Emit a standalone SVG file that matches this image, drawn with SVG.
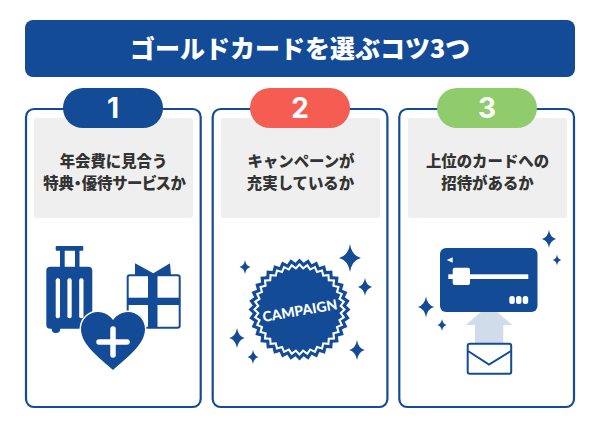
<svg xmlns="http://www.w3.org/2000/svg" width="600" height="433" viewBox="0 0 600 433">
<style>
.b{fill:#134b97}.w{fill:#fff}
.card{fill:#fff;stroke:#134b97;stroke-width:2.2}
.panel{fill:#efefef}
.num{font:700 28px "Inter","Liberation Sans",sans-serif;fill:#fff;text-anchor:middle}
.t{font:900 15.4px "Noto Sans CJK JP",sans-serif;fill:#333;text-anchor:middle}
.title{font:900 25px "Noto Sans CJK JP",sans-serif;fill:#fff;text-anchor:middle}
</style>
<defs>
<path id="star" d="M0-1Q.13-.17 .78 0Q.13 .17 0 1Q-.13 .17-.78 0Q-.13-.17 0-1Z" fill="#134b97"/>
<polygon id="seal" points="100,0 91.65,8.02 98.48,17.36 88.86,23.81 93.97,34.2 83.38,38.88 86.6,50 75.37,52.77 76.6,64.28 65.05,65.05 64.28,76.6 52.77,75.37 50,86.6 38.88,83.38 34.2,93.97 23.81,88.86 17.36,98.48 8.02,91.65 0,100 -8.02,91.65 -17.36,98.48 -23.81,88.86 -34.2,93.97 -38.88,83.38 -50,86.6 -52.77,75.37 -64.28,76.6 -65.05,65.05 -76.6,64.28 -75.37,52.77 -86.6,50 -83.38,38.88 -93.97,34.2 -88.86,23.81 -98.48,17.36 -91.65,8.02 -100,0 -91.65,-8.02 -98.48,-17.36 -88.86,-23.81 -93.97,-34.2 -83.38,-38.88 -86.6,-50 -75.37,-52.77 -76.6,-64.28 -65.05,-65.05 -64.28,-76.6 -52.77,-75.37 -50,-86.6 -38.88,-83.38 -34.2,-93.97 -23.81,-88.86 -17.36,-98.48 -8.02,-91.65 0,-100 8.02,-91.65 17.36,-98.48 23.81,-88.86 34.2,-93.97 38.88,-83.38 50,-86.6 52.77,-75.37 64.28,-76.6 65.05,-65.05 76.6,-64.28 75.37,-52.77 86.6,-50 83.38,-38.88 93.97,-34.2 88.86,-23.81 98.48,-17.36 91.65,-8.02"/>
</defs>
<g id="header">
<rect class="b" x="25" y="20" width="550" height="57" rx="8"/>
<text class="title" x="300" y="58">ゴールドカードを選ぶコツ3つ</text>
</g>
<g id="card1">
<rect class="card" x="26" y="109" width="174.700" height="298" rx="8"/>
<rect class="panel" x="34" y="118" width="159" height="100" rx="2"/>
<rect class="b" x="63" y="88" width="100" height="40" rx="20"/>
<text class="num" x="113" y="118">1</text>
<text class="t" x="113.500" y="166.500">年会費に見合う</text>
<text class="t" x="114.500" y="188.500" style="font-feature-settings:'palt'">特典・優待サービスか</text>
<g id="icon-luggage">
<rect class="b" x="55.7" y="246" width="27.6" height="4.7" rx="1"/>
<rect class="b" x="60" y="246" width="4.7" height="24"/>
<rect class="b" x="75" y="246" width="4.5" height="24"/>
<rect class="b" x="51.7" y="322" width="8.5" height="11" rx="4"/>
<rect class="b" x="46.3" y="266.7" width="46" height="62" rx="4"/>
<rect class="w" x="55.7" y="278.3" width="4.3" height="40" rx="2"/>
<rect class="w" x="67.4" y="278.3" width="4.3" height="40" rx="2"/>
<rect class="w" x="79.2" y="278.3" width="4.3" height="40" rx="2"/>
</g>
<g id="icon-gift">
<polygon class="b" points="135,275 135,263.3 153.3,273.3 170,263.3 171,275"/>
<rect x="127.7" y="275.300" width="52" height="52.4" rx="2" fill="#fff" stroke="#134b97" stroke-width="2"/>
<rect class="b" x="148" y="274" width="9.5" height="54"/>
<rect class="b" x="127" y="297.7" width="53" height="7.3"/>
</g>
<g id="icon-heart">
<path class="b" stroke="#fff" stroke-width="3" paint-order="stroke" d="M113 370C100 358 81 345 81 329C81 319 89 312 98 312C105 312 110 316 113 320C116 316 121 312 128 312C137 312 145 319 145 329C145 345 126 358 113 370Z"/>
<path d="M113 329V355M99 342H127" fill="none" stroke="#fff" stroke-width="5.500" stroke-linecap="round"/>
</g>
</g>
<g id="card2">
<rect class="card" x="212.700" y="109" width="174.700" height="298" rx="8"/>
<rect class="panel" x="221" y="118" width="159" height="100" rx="2"/>
<rect fill="#f55d53" x="250" y="88" width="100" height="40" rx="20"/>
<text class="num" x="300" y="118">2</text>
<text class="t" x="301" y="166.500">キャンペーンが</text>
<text class="t" x="300.500" y="188.500">充実しているか</text>
<g id="icon-campaign">
<use href="#seal" class="b" transform="translate(299.5 309.5) scale(.51)"/>
<use href="#seal" class="w" transform="translate(299.5 309.5) scale(.465)"/>
<use href="#seal" class="b" transform="translate(299.5 309.5) scale(.435)"/>
<text transform="translate(300 312) rotate(-10)" text-anchor="middle" dominant-baseline="middle" font-family="Lato,'Liberation Sans',sans-serif" font-weight="900" font-size="14" fill="#fff">CAMPAIGN</text>
<use href="#star" transform="translate(350 258) scale(14)"/>
<use href="#star" transform="translate(365 287) scale(9)"/>
<use href="#star" transform="translate(245 267) scale(7)"/>
<use href="#star" transform="translate(237 338) scale(10)"/>
<use href="#star" transform="translate(253 357) scale(7)"/>
<use href="#star" transform="translate(357 350) scale(10)"/>
</g>
</g>
<g id="card3">
<rect class="card" x="399.300" y="109" width="174.700" height="298" rx="8"/>
<rect class="panel" x="408" y="118" width="159" height="100" rx="2"/>
<rect fill="#90cc6b" x="437" y="88" width="100" height="40" rx="20"/>
<text class="num" x="487" y="118">3</text>
<text class="t" x="487.500" y="166.500">上位のカードへの</text>
<text class="t" x="487.500" y="188.500">招待があるか</text>
<g id="icon-card">
<polygon fill="#d0dcea" points="489,305 512.3,325 503.3,325 503.3,344 475,344 475,325 465.7,325"/>
<rect class="b" x="440" y="248" width="97.5" height="64" rx="6"/>
<polygon class="w" points="446.7,260 452.7,257.3 452.7,262.7"/>
<rect class="w" x="448.3" y="274.3" width="80" height="4.7"/>
<rect class="w" x="452.7" y="267.7" width="17.3" height="17.3" rx="2"/>
<rect class="w" x="509.3" y="296" width="5.5" height="8" rx="2.500"/>
<rect class="w" x="516" y="296" width="5.5" height="8" rx="2.500"/>
<rect class="w" x="522.7" y="296" width="5.5" height="8" rx="2.500"/>
<rect x="467.7" y="343.7" width="43.5" height="30" rx="2" fill="#fff" stroke="#134b97" stroke-width="2"/>
<path d="M468 351L489 364.5L511 351" fill="none" stroke="#134b97" stroke-width="2"/>
<use href="#star" transform="translate(549 239) scale(9)"/>
<use href="#star" transform="translate(557 260) scale(5.500)"/>
<use href="#star" transform="translate(426 307) scale(10.500)"/>
<use href="#star" transform="translate(442 325) scale(6)"/>
</g>
</g>
</svg>
